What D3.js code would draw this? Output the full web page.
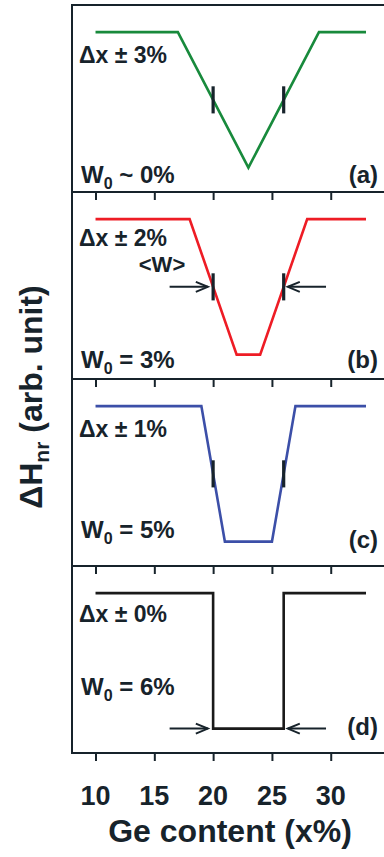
<!DOCTYPE html>
<html>
<head>
<meta charset="utf-8">
<script src="https://cdn.jsdelivr.net/npm/d3@7"></script>
<style>
  body { margin: 0; background: #fff; }
  svg { display: block; font-family: "Liberation Sans", Arial, sans-serif; font-weight: bold; }
</style>
</head>
<body>
<div id="chart"></div>
<script>
// profile break points (Ge content %) and normalised dH_nr level
var xA = [10, 17, 23, 29, 33], yA = [1, 1, 0, 1, 1];
var xB = [10, 18, 22, 24, 28, 33], yB = [1, 1, 0, 0, 1, 1];
var xC = [10, 19, 21, 25, 27, 33], yC = [1, 1, 0, 0, 1, 1];
var xD = [10, 20, 20, 26, 26, 33], yD = [1, 1, 0, 0, 1, 1];

var markX = [20, 26];            // <W> edges
var markLevel = [0.4, 0.6];      // half-height bar span
var xTicks = [10, 15, 20, 25, 30];

var spreadLabels = ["Δx ± 3%", "Δx ± 2%", "Δx ± 1%", "Δx ± 0%"];
var w0Values = ["~ 0%", "= 3%", "= 5%", "= 6%"];
var panelTags = ["(a)", "(b)", "(c)", "(d)"];
var lineColors = ["#188a3c", "#ee1c25", "#3c4fa8", "#1a1a1a"];

var ink = "#17232b";
var width = 384, height = 857;
var left = 72, right = 386, topY = 5, panelH = 187;

var svg = d3.select("#chart").append("svg").attr("width", width).attr("height", height);

var x = d3.scaleLinear().domain([8, 34.7]).range([left, right]);

var panels = [
    {xs: xA, ys: yA, marks: true, arrowLevel: null, dxOff: 58, w0Off: 178, tagOff: 178},
    {xs: xB, ys: yB, marks: true, arrowLevel: 0.5, dxOff: 54, w0Off: 176, tagOff: 176},
    {xs: xC, ys: yC, marks: true, arrowLevel: null, dxOff: 58, w0Off: 159, tagOff: 169},
    {xs: xD, ys: yD, marks: false, arrowLevel: 0, dxOff: 56, w0Off: 129, tagOff: 169}
];

panels.forEach(function(p, i){
    var y0 = topY + i * panelH;
    var y = d3.scaleLinear().domain([-0.18, 1.2]).range([y0 + panelH, y0]);
    var g = svg.append("g");

    // frame
    g.append("rect")
        .attr("x", left).attr("y", y0)
        .attr("width", right - left).attr("height", panelH)
        .attr("fill", "none").attr("stroke", ink).attr("stroke-width", 2);

    // bottom axis ticks (pointing out, into the next panel)
    g.append("g")
        .attr("transform", "translate(0," + (y0 + panelH) + ")")
        .call(d3.axisBottom(x).tickValues(xTicks).tickSize(8).tickFormat(""))
        .call(function(a){
            a.select(".domain").remove();
            a.selectAll("line").attr("stroke", ink).attr("stroke-width", 2);
        });

    var pts = p.xs.map(function(v, k){ return [v, p.ys[k]]; });
    g.append("path")
        .datum(pts)
        .attr("d", d3.line().x(function(d){ return x(d[0]); }).y(function(d){ return y(d[1]); }))
        .attr("fill", "none")
        .attr("stroke", lineColors[i])
        .attr("stroke-width", 2.6)
        .attr("stroke-linejoin", "miter");

    if (p.marks) {
        g.selectAll(".mark").data(markX).enter().append("line")
            .attr("x1", function(d){ return x(d); }).attr("x2", function(d){ return x(d); })
            .attr("y1", y(markLevel[0])).attr("y2", y(markLevel[1]))
            .attr("stroke", ink).attr("stroke-width", 3.2);
    }

    if (p.arrowLevel !== null) {
        var ay = y(p.arrowLevel);
        var arrows = [[16.3, 19.55], [29.6, 26.35]];
        arrows.forEach(function(a){
            var x1 = x(a[0]), x2 = x(a[1]), dir = x2 > x1 ? 1 : -1;
            g.append("line").attr("x1", x1).attr("x2", x2).attr("y1", ay).attr("y2", ay)
                .attr("stroke", ink).attr("stroke-width", 2);
            g.append("path")
                .attr("d", "M" + (x2 - dir * 12) + "," + (ay - 5) + "L" + x2 + "," + ay + "L" + (x2 - dir * 12) + "," + (ay + 5))
                .attr("fill", "none").attr("stroke", ink).attr("stroke-width", 2);
        });
    }

    g.append("text")
        .attr("x", 79).attr("y", y0 + p.dxOff)
        .attr("font-size", 23).attr("fill", ink)
        .text(spreadLabels[i]);

    var w0 = g.append("text")
        .attr("x", 81).attr("y", y0 + p.w0Off)
        .attr("font-size", 24).attr("fill", ink);
    w0.append("tspan").text("W");
    w0.append("tspan").attr("font-size", 16).attr("dy", 6).text("0");
    w0.append("tspan").attr("dy", -6).text(" " + w0Values[i]);

    g.append("text")
        .attr("x", 378).attr("y", y0 + p.tagOff)
        .attr("text-anchor", "end")
        .attr("font-size", 24).attr("fill", ink)
        .text(panelTags[i]);

    if (i === 1) {
        g.append("text")
            .attr("x", 162).attr("y", y0 + 80)
            .attr("text-anchor", "middle")
            .attr("font-size", 22).attr("fill", ink)
            .text("<W>");
    }
});

// x tick labels
svg.selectAll(".tlab").data(xTicks).enter().append("text")
    .attr("x", function(d){ return x(d); })
    .attr("y", 805)
    .attr("text-anchor", "middle")
    .attr("font-size", 27).attr("fill", ink)
    .text(function(d){ return d; });

svg.append("text")
    .attr("x", 230).attr("y", 842)
    .attr("text-anchor", "middle")
    .attr("font-size", 32).attr("fill", ink)
    .text("Ge content (x%)");

var yl = svg.append("text")
    .attr("transform", "translate(42,397) rotate(-90)")
    .attr("text-anchor", "middle")
    .attr("font-size", 32).attr("fill", ink);
yl.append("tspan").text("ΔH");
yl.append("tspan").attr("font-size", 21).attr("dy", 7).text("nr");
yl.append("tspan").attr("dy", -7).text(" (arb. unit)");
</script>
</body>
</html>
